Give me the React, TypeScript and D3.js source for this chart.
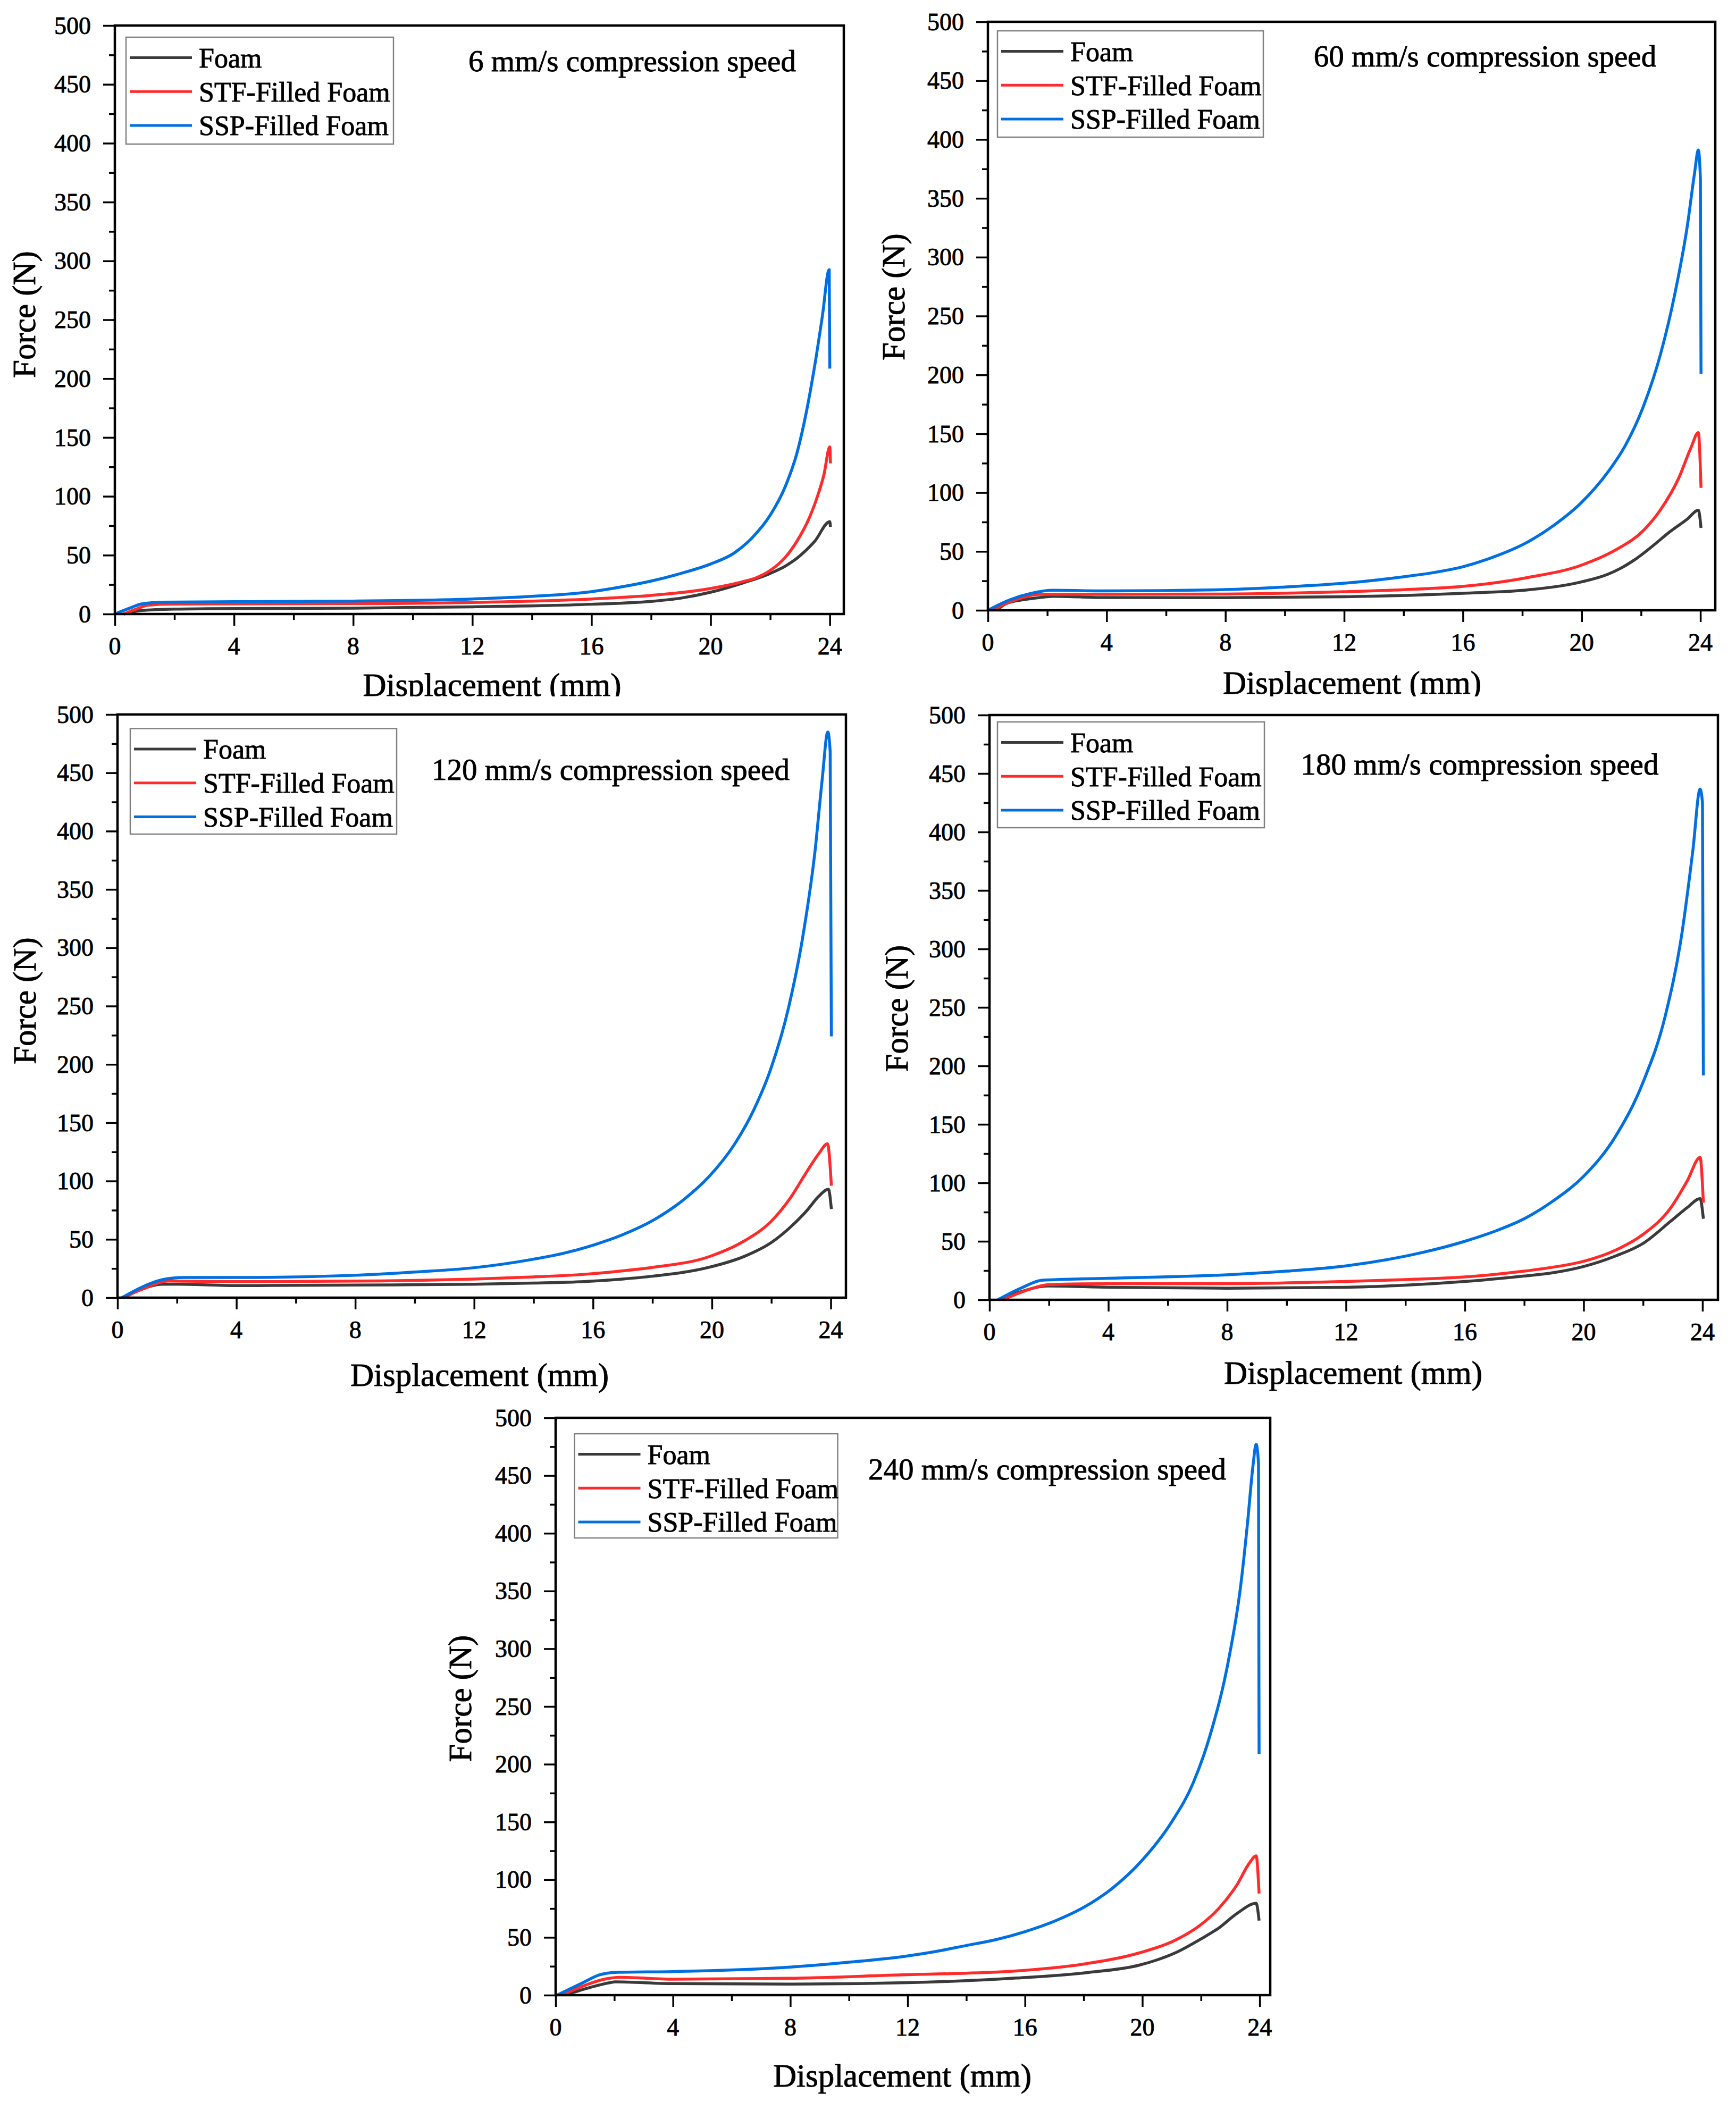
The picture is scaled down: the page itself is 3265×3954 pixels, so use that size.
import React, { useEffect, useRef } from 'react';
import * as d3 from 'd3';

const W = 3265;
const H = 3954;

// chart values: [displacement mm, force N]
const seriesNames = ['Foam', 'STF-Filled Foam', 'SSP-Filled Foam'];
const titles = [
  '6 mm/s compression speed',
  '60 mm/s compression speed',
  '120 mm/s compression speed',
  '180 mm/s compression speed',
  '240 mm/s compression speed',
];
const xTicks = [0, 4, 8, 12, 16, 20, 24];
const xMinorTicks = [2, 6, 10, 14, 18, 22];
const yTicks = [0, 50, 100, 150, 200, 250, 300, 350, 400, 450, 500];
const yMinorTicks = [25, 75, 125, 175, 225, 275, 325, 375, 425, 475];

const foam6 = [[0.3, 0], [0.9, 3], [2, 4.2], [3.1, 4.5], [8, 5], [12, 6.1], [16, 8.3], [18, 10.7], [19, 13.5], [20, 18.5], [21.1, 26.5], [22, 34.5], [22.5, 40.6], [23, 49.5], [23.5, 62], [24, 78.5], [24.02, 74]];
const stf6 = [[0.3, 0], [0.7, 4], [1.1, 7.5], [1.9, 8.5], [8, 8.8], [12, 9.8], [16, 12.8], [18, 15.8], [20, 21.7], [21.1, 27.6], [21.5, 30.5], [22, 37], [22.5, 48], [22.9, 62], [23.3, 81], [23.6, 101], [23.8, 118], [24, 142], [24.02, 128]];
const ssp6 = [[0, 0], [0.5, 5], [0.9, 8.6], [1.6, 10.1], [4, 10.5], [8, 11], [12, 12.8], [14, 15], [16, 19], [17, 23], [18, 28], [19, 34.5], [20, 42.5], [20.8, 52], [21.4, 65], [22, 84], [22.5, 108], [22.9, 137], [23.2, 170], [23.5, 212], [23.75, 253], [23.98, 292.6], [24.0, 208.5]];

const foam60 = [[0.3, 0], [0.6, 5.5], [1.2, 9], [1.7, 10.7], [2.2, 11.9], [4, 10.8], [8, 10.7], [12, 11.5], [16, 14.5], [18.2, 17.4], [19.97, 24], [20.87, 30.5], [21.3, 35.5], [21.76, 42.5], [22.36, 54], [22.96, 66.5], [23.56, 77.5], [23.93, 85], [24.02, 70]];
const stf60 = [[0.15, 0], [0.73, 7], [1.2, 11], [1.7, 13.5], [4, 13.5], [8, 13.8], [12, 15.8], [14, 17.5], [16, 20.3], [18.2, 27.9], [20, 38.4], [21.16, 51.5], [22.06, 67.3], [22.66, 85.6], [23.26, 111.8], [23.68, 138], [23.93, 151], [24.02, 104]];
const ssp60 = [[0, 0], [0.73, 8.8], [1.47, 14.5], [2.2, 17], [4, 16.5], [8, 17.6], [10, 19.8], [12, 23], [14, 28.5], [15, 32], [16, 37], [17, 45], [18.18, 58], [19.08, 72.5], [19.97, 91], [20.87, 117], [21.47, 140], [22.06, 172], [22.66, 218], [23.14, 269], [23.56, 326.8], [23.8, 371], [23.93, 391], [24.0, 366], [24.02, 201]];

const foam120 = [[0.2, 0], [0.75, 6.5], [1.5, 11.5], [2.1, 11.5], [4, 10.4], [8, 10.8], [12, 11.5], [14, 12.5], [15.7, 13.8], [17, 16], [18, 18.4], [19.9, 26], [21.1, 35.5], [22, 47.3], [22.6, 59.5], [23.2, 74.8], [23.6, 87], [23.92, 93], [24.02, 76]];
const stf120 = [[0.2, 0], [0.94, 8.5], [1.7, 14.2], [4, 13.8], [8, 14.2], [12, 16], [14, 17.8], [15.7, 20], [17, 23], [18, 26], [19.9, 35.1], [21.1, 48.8], [22, 65.6], [22.6, 84], [23.2, 108.3], [23.6, 123.6], [23.89, 132], [24.02, 96]];
const ssp120 = [[0.15, 0], [0.94, 10.4], [1.5, 15.4], [2.26, 17.3], [4, 17.3], [8, 19.2], [10, 22], [12, 25.7], [14, 33], [15, 38], [16, 45], [17, 54], [18, 66], [19, 83], [19.9, 103.7], [20.79, 132.7], [21.39, 160], [21.98, 196], [22.58, 248.7], [23.06, 309.7], [23.47, 383], [23.71, 444], [23.9, 485], [23.98, 468], [24.02, 224]];

const foam180 = [[0.3, 0], [1.05, 6.9], [1.98, 11.8], [4, 10.7], [8, 9.9], [12, 10.7], [14, 12.5], [16, 15.7], [18, 20.3], [19, 23.3], [20, 28.5], [21.08, 37.5], [22, 48.2], [22.94, 67.4], [23.49, 78.9], [23.92, 86.5], [24.03, 69.3]];
const stf180 = [[0.45, 0], [1.24, 8], [1.98, 13], [4, 13.8], [8, 13.8], [12, 15.7], [14, 17.3], [16, 19.5], [18, 24.5], [19, 28], [20, 32.9], [21.08, 42.5], [22, 55.9], [22.94, 78.9], [23.49, 101.8], [23.92, 121.7], [24.03, 83]];
const ssp180 = [[0.28, 0], [1.05, 9.9], [1.8, 16.8], [4, 18.4], [8, 21.4], [10, 24.5], [12, 29], [14.6, 40.6], [16, 50], [17, 58.5], [18, 69.3], [19, 85], [20, 105.6], [21.08, 140], [22, 186], [22.75, 243], [23.3, 312], [23.68, 385], [23.92, 436.7], [24.0, 425], [24.03, 191.8]];

const foam240 = [[0.3, 0], [1.11, 6.2], [1.85, 10.8], [2.03, 11.5], [4, 10], [8, 9.6], [12, 10.8], [15.7, 14.8], [18.1, 19.5], [19.9, 26], [20.5, 30.5], [21.12, 36.6], [22.02, 49], [22.62, 58.4], [23.23, 70.8], [23.88, 79.5], [23.98, 64.6]];
const stf240 = [[0.2, 0], [1.02, 8.7], [1.66, 13.8], [2.2, 15.4], [4, 13.8], [8, 14.6], [12, 17.7], [14, 19], [15.7, 21], [18.1, 27.3], [19.9, 36.6], [21.12, 47.5], [22.02, 61.5], [22.62, 75.5], [23.23, 95.7], [23.65, 114.4], [23.88, 120.6], [23.98, 88]];
const ssp240 = [[0.05, 0], [0.93, 10.8], [1.48, 17.4], [2.04, 19.7], [4, 20.4], [8, 24.3], [10, 28.5], [12, 34], [13, 38], [14, 43], [15, 48], [16, 55], [17, 64], [18, 76], [19, 93], [20, 117], [21, 150], [21.72, 183], [22.32, 226], [22.93, 289], [23.35, 354], [23.59, 410], [23.77, 458], [23.88, 477], [23.96, 460], [23.98, 209]];

const panelData = [
  [foam6, stf6, ssp6],
  [foam60, stf60, ssp60],
  [foam120, stf120, ssp120],
  [foam180, stf180, ssp180],
  [foam240, stf240, ssp240],
];

// layout of each panel in the page (pixels)
const panels = [
  { left: 216, top: 48, width: 1371, height: 1107, xMax: 24.47, title: [973, 66.5], legend: [21, 22, 503, 201], xLabel: [24, 154], yLabel: [-150, -10] },
  { left: 1858, top: 41, width: 1368, height: 1107, xMax: 24.5, title: [935, 65], legend: [18, 17, 500, 200], xLabel: [1, 157], yLabel: [-157, -36] },
  { left: 221, top: 1344, width: 1370, height: 1097, xMax: 24.51, title: [927.5, 104], legend: [24, 26.5, 501, 198.5], xLabel: [-4, 166], yLabel: [-154, -10] },
  { left: 1861, top: 1345, width: 1370, height: 1100, xMax: 24.52, title: [922, 93], legend: [15, 13, 502, 199], xLabel: [-1, 158], yLabel: [-154, 2] },
  { left: 1045, top: 2667, width: 1344, height: 1086, xMax: 24.36, title: [924.5, 97], legend: [35.5, 30, 495, 196], xLabel: [-20, 172], yLabel: [-159, -15] },
];

const colors = ['#3a3a3a', '#ff2a2a', '#006fe0'];
const fontFamily = '"Liberation Serif", "Times New Roman", Times, serif';

// the figure's text is a touch heavier than plain Liberation Serif
function ink(sel) {
  return sel
    .style('font-family', fontFamily)
    .attr('fill', '#000')
    .attr('stroke', '#000')
    .attr('stroke-width', 0.9);
}

function ticksOnly(ax) {
  ax.select('.domain').remove();
  ax.selectAll('text').remove();
  ax.selectAll('line').attr('stroke', '#000').attr('stroke-width', 3.5);
}

function drawPanel(svg, p, data, title) {
  const g = svg.append('g').attr('transform', `translate(${p.left},${p.top})`)
    .style('font-family', fontFamily);

  const x = d3.scaleLinear().domain([0, p.xMax]).range([0, p.width]);
  const y = d3.scaleLinear().domain([0, 500]).range([p.height, 0]);

  // tick marks (labels are placed below as plain text)
  ticksOnly(g.append('g').attr('transform', `translate(0,${p.height})`)
    .call(d3.axisBottom(x).tickValues(xMinorTicks).tickSize(11).tickSizeOuter(0)));
  ticksOnly(g.append('g')
    .call(d3.axisLeft(y).tickValues(yMinorTicks).tickSize(11).tickSizeOuter(0)));
  ticksOnly(g.append('g').attr('transform', `translate(0,${p.height})`)
    .call(d3.axisBottom(x).tickValues(xTicks).tickSize(22).tickSizeOuter(0)));
  ticksOnly(g.append('g')
    .call(d3.axisLeft(y).tickValues(yTicks).tickSize(22).tickSizeOuter(0)));

  ink(g.append('g').selectAll('text')
    .data(xTicks)
    .join('text')
    .attr('x', d => x(d))
    .attr('y', p.height + 76)
    .attr('text-anchor', 'middle')
    .style('font-size', '46px'))
    .text(d => String(d));

  ink(g.append('g').selectAll('text')
    .data(yTicks)
    .join('text')
    .attr('x', -45)
    .attr('y', d => y(d))
    .attr('dy', '0.34em')
    .attr('text-anchor', 'end')
    .style('font-size', '46px'))
    .text(d => String(d));

  // curves
  const line = d3.line().x(d => x(d[0])).y(d => y(d[1])).curve(d3.curveMonotoneX);
  data.forEach((s, k) => {
    g.append('path')
      .attr('d', line(s))
      .attr('fill', 'none')
      .attr('stroke', colors[k])
      .attr('stroke-width', 5.5)
      .attr('stroke-linejoin', 'round')
      .attr('stroke-linecap', 'butt');
  });

  // frame
  g.append('rect')
    .attr('width', p.width)
    .attr('height', p.height)
    .attr('fill', 'none')
    .attr('stroke', '#000')
    .attr('stroke-width', 4.5);

  // legend
  const lg = g.append('g').attr('transform', `translate(${p.legend[0]},${p.legend[1]})`);
  lg.append('rect')
    .attr('width', p.legend[2])
    .attr('height', p.legend[3])
    .attr('fill', '#fff')
    .attr('stroke', '#808080')
    .attr('stroke-width', 2.5);
  seriesNames.forEach((name, k) => {
    const cy = 38.6 + k * 63.7;
    lg.append('line')
      .attr('x1', 7).attr('x2', 124)
      .attr('y1', cy).attr('y2', cy)
      .attr('stroke', colors[k])
      .attr('stroke-width', 5);
    ink(lg.append('text')
      .attr('x', 137)
      .attr('y', cy)
      .attr('dy', '0.35em')
      .style('font-size', '52px'))
      .text(name);
  });

  // speed title
  ink(g.append('text')
    .attr('x', p.title[0])
    .attr('y', p.title[1])
    .attr('dy', '0.34em')
    .attr('text-anchor', 'middle')
    .style('font-size', '57px'))
    .text(title);

  // axis titles
  ink(g.append('text')
    .attr('x', p.width / 2 + p.xLabel[0])
    .attr('y', p.height + p.xLabel[1])
    .attr('text-anchor', 'middle')
    .style('font-size', '61px'))
    .text('Displacement (mm)');

  ink(g.append('text')
    .attr('transform', `translate(${p.yLabel[0]},${p.height / 2 + p.yLabel[1]}) rotate(-90)`)
    .attr('text-anchor', 'middle')
    .style('font-size', '61px'))
    .text('Force (N)');
}

export default function App() {
  const ref = useRef(null);

  useEffect(() => {
    const svg = d3.select(ref.current);
    svg.selectAll('*').remove();
    svg.append('rect').attr('width', W).attr('height', H).attr('fill', '#fff');

    panels.forEach((p, i) => {
      // the lower panels sit over the bottom of the upper axis titles
      if (i === 2) {
        svg.append('rect').attr('x', 0).attr('y', 1310).attr('width', W).attr('height', 1330).attr('fill', '#fff');
      }
      drawPanel(svg, p, panelData[i], titles[i]);
    });
  }, []);

  return (
    <svg
      ref={ref}
      width={W}
      height={H}
      style={{ position: 'absolute', left: 0, top: 0, display: 'block' }}
    />
  );
}
